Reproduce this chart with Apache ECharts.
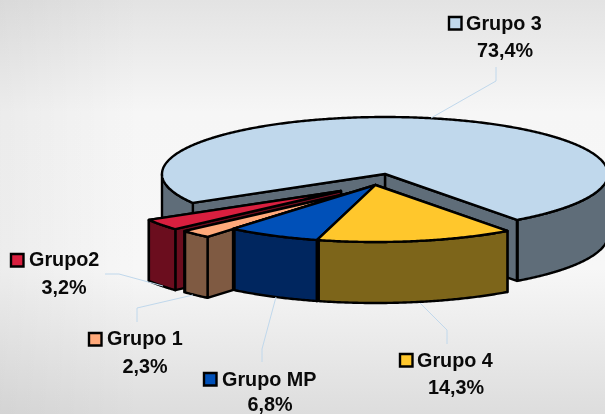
<!DOCTYPE html>
<html>
<head>
<meta charset="utf-8">
<title>Grupos</title>
<script src="https://cdn.jsdelivr.net/npm/echarts@6/dist/echarts.min.js"></script>
<style>
html, body { margin: 0; padding: 0; background: #fff; }
#chart { width: 605px; height: 414px; }
</style>
</head>
<body>
<div id="chart"></div>
<script>
// valores en sentido horario, empezando por Grupo 3
var groupNames = ['Grupo 3', 'Grupo 4', 'Grupo MP', 'Grupo 1', 'Grupo2'];
var groupValues = [73.4, 14.3, 6.8, 2.3, 3.2];

// colores de la cara superior y de los lados
var topColors = ['#c0d8ec', '#ffc72c', '#0050b8', '#ffa97a', '#d91f3f'];
var sideColors = ['#5f6d79', '#7d651a', '#00265f', '#7f5a42', '#6b0d1e'];

// geometria del pastel en pixeles
var RX = 223;
var RY = 57;
var DEPTH = 61;
var START_ANGLE = 149.5;
var apexList = [[385, 174], [375.5, 185], [375.5, 185], [350, 193], [341, 191]];
var drawOrder = [0, 4, 3, 2, 1];
var LABEL_FONT = 'bold 19.8px "Liberation Sans", Arial, sans-serif';

// etiqueta: cuadro [x, y], texto [x, y], porcentaje [x, y] y linea guia
var labelLayout = [
	{ key: [449, 17], name: [466, 25], pct: [505, 51.5], guide: [[431, 118], [496, 81], [496, 67]] },
	{ key: [400, 354], name: [417, 362], pct: [456, 388.5], guide: [[420, 303], [447, 330], [447, 344]] },
	{ key: [204, 373], name: [222, 381], pct: [270, 406], guide: [[276, 297], [262, 349], [262, 362]] },
	{ key: [89, 333], name: [107, 340], pct: [145, 367.5], guide: [[193, 295], [137, 308], [137, 322]] },
	{ key: [11, 254], name: [29, 261], pct: [64, 288.5], guide: [[163, 286], [119, 274], [105, 274]] }
];

function ellipsePoint(apex, deg, drop) {
	var t = deg * Math.PI / 180;
	return [apex[0] + RX * Math.cos(t), apex[1] + RY * Math.sin(t) + drop];
}

function sliceElement(points, color, z) {
	return {
		type: 'polygon',
		z2: z,
		shape: { points: points },
		style: { fill: color, stroke: '#000', lineWidth: 2.4, lineJoin: 'round' }
	};
}

// caras de corte: el vertice y un borde, bajados DEPTH
function cutFace(apex, deg, color, z) {
	var a = ellipsePoint(apex, deg, 0);
	var b = ellipsePoint(apex, deg, DEPTH);
	return sliceElement([apex, a, b, [apex[0], apex[1] + DEPTH]], color, z);
}

// pared exterior, solo los tramos que miran hacia el frente
function wallFaces(apex, from, to, color, z) {
	var walls = [];
	var run = [];
	function flush() {
		if (run.length > 1) {
			var pts = [];
			for (var i = 0; i < run.length; i++) {
				pts.push(ellipsePoint(apex, run[i], 0));
			}
			for (var j = run.length - 1; j >= 0; j--) {
				pts.push(ellipsePoint(apex, run[j], DEPTH));
			}
			walls.push(sliceElement(pts, color, z));
		}
		run = [];
	}
	for (var deg = from; deg <= to + 0.001; deg += 0.5) {
		var d = deg % 360;
		if (d <= 180) {
			run.push(deg);
		} else {
			flush();
		}
	}
	flush();
	return walls;
}

function formatPct(v) {
	return v.toFixed(1).replace('.', ',') + '%';
}

function labelText(text, pos, align) {
	return {
		type: 'text',
		z2: 10,
		x: pos[0],
		y: pos[1],
		style: {
			text: text,
			fill: '#0a0a0a',
			font: LABEL_FONT,
			textAlign: align,
			textVerticalAlign: 'middle'
		}
	};
}

function renderSlice(params, api) {
	var idx = params.dataIndex;
	var from = START_ANGLE;
	for (var i = 0; i < idx; i++) {
		from += groupValues[i] * 3.6;
	}
	var to = from + api.value(0) * 3.6;
	var apex = apexList[idx];
	var z = drawOrder[idx];
	var children = [];

	// primero la cara final, que en las porciones delanteras queda oculta
	children.push(cutFace(apex, to, sideColors[idx], z));
	children.push(cutFace(apex, from, sideColors[idx], z));
	children = children.concat(wallFaces(apex, from, to, sideColors[idx], z));

	var top = [apex];
	for (var deg = from; deg < to; deg += 0.5) {
		top.push(ellipsePoint(apex, deg, 0));
	}
	top.push(ellipsePoint(apex, to, 0));
	children.push(sliceElement(top, topColors[idx], z));

	var lay = labelLayout[idx];
	children.push({
		type: 'polyline',
		z2: 10,
		shape: { points: lay.guide },
		style: { fill: null, stroke: '#c0d8ec', lineWidth: 1 }
	});
	children.push({
		type: 'rect',
		z2: 10,
		shape: { x: lay.key[0], y: lay.key[1], width: 12.5, height: 12.5 },
		style: { fill: topColors[idx], stroke: '#000', lineWidth: 2.4 }
	});
	children.push(labelText(groupNames[idx], lay.name, 'left'));
	children.push(labelText(formatPct(api.value(0)), lay.pct, 'center'));
	return { type: 'group', children: children };
}

var myChart = echarts.init(document.getElementById('chart'));
var option = {
	animation: false,
	backgroundColor: {
		type: 'linear', x: 0, y: 0, x2: 0, y2: 1,
		colorStops: [
			{ offset: 0, color: '#e3e3e3' },
			{ offset: 0.27, color: '#f6f6f6' },
			{ offset: 0.65, color: '#f7f7f7' },
			{ offset: 1, color: '#dddddd' }
		]
	},
	graphic: {
		elements: [{
			type: 'rect',
			z: -1,
			silent: true,
			shape: { x: 0, y: 0, width: 140, height: 414 },
			style: {
				fill: {
					type: 'linear', x: 0, y: 0, x2: 1, y2: 0,
					colorStops: [
						{ offset: 0, color: 'rgba(0,0,0,0.045)' },
						{ offset: 1, color: 'rgba(0,0,0,0)' }
					]
				}
			}
		}]
	},
	series: [{
		type: 'custom',
		coordinateSystem: 'none',
		renderItem: renderSlice,
		silent: true,
		data: groupValues
	}]
};
myChart.setOption(option);
</script>
</body>
</html>
